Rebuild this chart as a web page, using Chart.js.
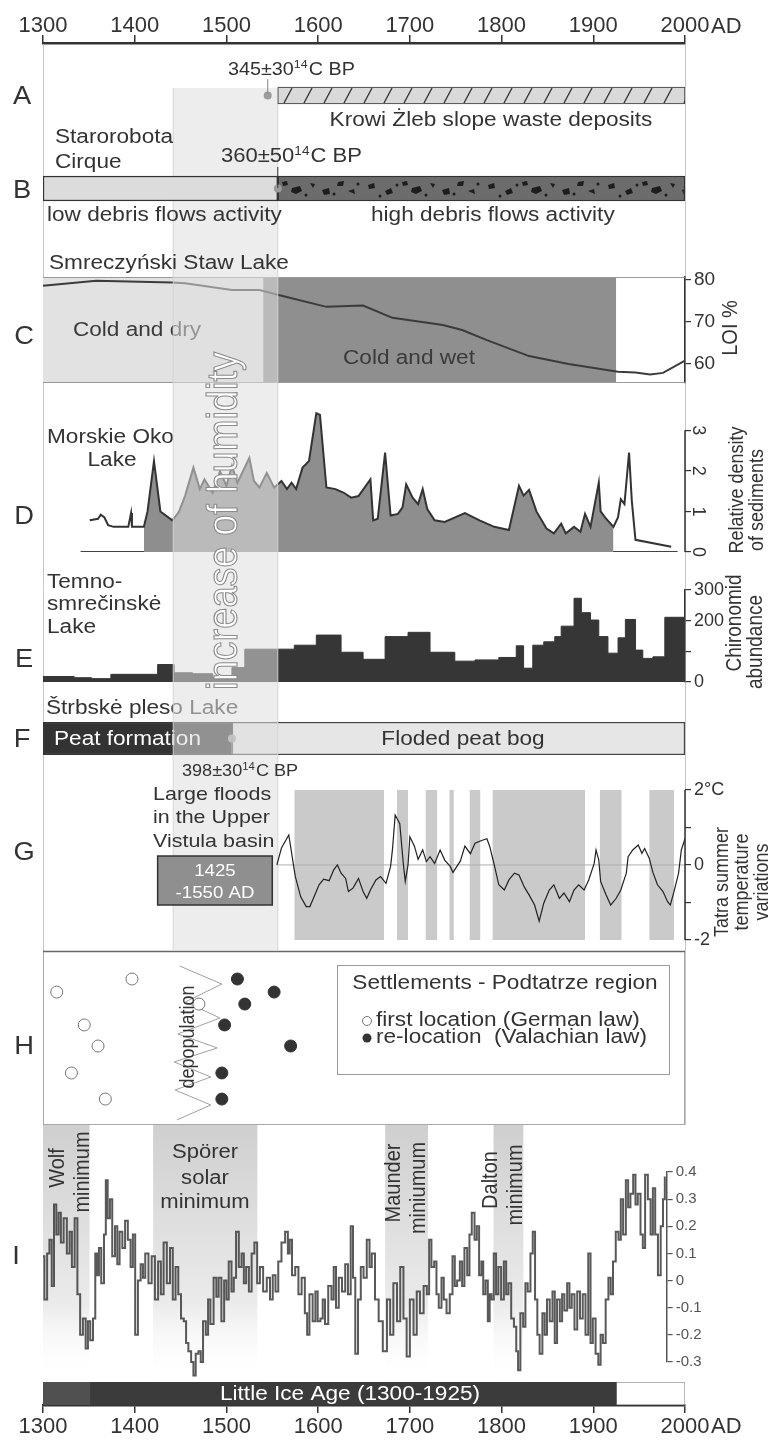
<!DOCTYPE html>
<html>
<head>
<meta charset="utf-8">
<title>Tatra records 1300-2000 AD</title>
<script src="https://cdn.jsdelivr.net/npm/chart.js@4.4.1/dist/chart.umd.min.js"></script>
<style>
  body { margin: 0; background: #fff; }
  #fig { position: relative; width: 775px; height: 1440px; overflow: hidden; }
  #fig canvas { position: absolute; left: 0; top: 0; }
</style>
</head>
<body>
<div id="fig"></div>
<script>
// ---------- values ----------
const yearTicks = [1300, 1400, 1500, 1600, 1700, 1800, 1900, 2000];

// A, B: Krowi Żleb / Starorobota Cirque
const rowsAB = ['A', 'B'];
const slopeWaste = [1556, 2000];
const debrisLow = [1300, 1556];
const debrisHigh = [1556, 2000];
const datesAB = [1545, 1556];

// C: Smreczyński Staw, LOI %
const loiYears  = [1300, 1358, 1441, 1455, 1506, 1536, 1557, 1609, 1649, 1681, 1736, 1757, 1784, 1830, 1873, 1927, 1946, 1962, 1976, 2000];
const loiValues = [78.6, 79.8, 79.4, 79.2, 77.6, 77.6, 76.4, 73.6, 73.9, 71.0, 69.3, 68.1, 65.7, 61.9, 60.0, 58.2, 58.0, 57.5, 57.9, 60.8];
const loiTicks = [60, 70, 80];
const climateStart = [1300, 1540];
const climateEnd   = [1540, 1925];

// D: Morskie Oko, relative density of sediments
const densYears = [1351, 1360, 1363, 1367, 1371, 1377, 1393, 1396, 1397, 1410,
                   1414, 1421, 1428, 1441, 1448, 1455, 1464, 1471, 1476, 1485,
                   1493, 1500, 1506, 1512, 1518, 1525, 1530, 1536, 1544, 1552,
                   1560, 1566, 1571, 1576, 1583, 1590, 1598, 1602, 1609, 1619,
                   1628, 1636, 1644, 1657, 1660, 1665, 1673, 1679, 1687, 1692,
                   1696, 1703, 1709, 1714, 1719, 1727, 1738, 1760, 1776, 1792,
                   1808, 1819, 1824, 1830, 1838, 1849, 1857, 1865, 1870, 1879,
                   1886, 1891, 1897, 1906, 1908, 1914, 1922, 1927, 1930, 1934,
                   1939, 1942, 1946, 1985];
const densValues = [0.78, 0.82, 0.92, 0.85, 0.66, 0.62, 0.62, 0.96, 0.62, 0.62,
                    1.0, 2.24, 1.0, 0.78, 0.98, 1.39, 2.08, 1.55, 1.79, 1.46,
                    1.99, 1.63, 2.12, 1.71, 1.99, 2.32, 1.75, 1.59, 1.95, 1.59,
                    1.75, 1.55, 1.71, 1.55, 2.08, 2.24, 3.42, 3.38, 1.59, 1.55,
                    1.46, 1.34, 1.38, 1.79, 0.78, 0.82, 2.45, 0.9, 0.94, 1.1,
                    1.67, 1.34, 1.18, 1.55, 1.06, 0.78, 0.74, 0.96, 0.78, 0.62,
                    0.54, 1.63, 1.39, 1.53, 1.0, 0.58, 0.46, 0.70, 0.46, 0.62,
                    0.5, 0.94, 0.62, 1.71, 1.0, 0.82, 0.62, 0.86, 1.3, 1.18,
                    2.45, 1.26, 0.3, 0.13];
const densFilled = [1410, 1922];
const densBase = [1341, 1992];
const densTicks = [0, 1, 2, 3];

// E: Temno-smrečinskė, chironomid abundance (step starts)
const chirYears  = [1300, 1334, 1353, 1374, 1425, 1443, 1463, 1485, 1506, 1520,
                    1574, 1598, 1625, 1649, 1673, 1698, 1722, 1749, 1771, 1797,
                    1816, 1824, 1834, 1846, 1858, 1865, 1879, 1887, 1897, 1906,
                    1916, 1927, 1935, 1946, 1954, 1965, 1978, 1997, 2000];
const chirValues = [14, 18, 14, 11, 25, 57, 30, 27, 16, 47,
                    107, 120, 153, 97, 74, 148, 162, 97, 68, 72,
                    80, 118, 45, 120, 131, 148, 182, 273, 226, 202,
                    148, 94, 144, 204, 104, 77, 82, 211, 211];
const chirTicks = [0, 100, 200, 300];
const chirLabels = ['0', '', '200', '300'];

// F: Štrbskė pleso
const peatSpan = [1300, 1506];
const floodedSpan = [1506, 2000];
const datesF = [1506];

// G: Tatra summer temperature variations
const tempYears  = [1555, 1560, 1568, 1575, 1581, 1587, 1591, 1595, 1601, 1606,
                    1612, 1617, 1621, 1625, 1630, 1633, 1638, 1644, 1649, 1653,
                    1657, 1663, 1668, 1674, 1679, 1681, 1684, 1689, 1693, 1695,
                    1698, 1700, 1705, 1709, 1714, 1718, 1722, 1727, 1733, 1738,
                    1744, 1747, 1755, 1760, 1766, 1771, 1779, 1784, 1787, 1792,
                    1797, 1803, 1808, 1814, 1819, 1825, 1830, 1836, 1841, 1846,
                    1852, 1857, 1863, 1868, 1874, 1879, 1884, 1890, 1895, 1901,
                    1903, 1906, 1908, 1914, 1919, 1925, 1930, 1936, 1938, 1943,
                    1949, 1953, 1956, 1961, 1965, 1970, 1976, 1981, 1984, 1988,
                    1993, 1996, 2000];
const tempValues = [0, 0.45, 0.8, -0.3, -0.85, -1.11, -1.11, -0.88, -0.53, -0.38,
                    -0.42, -0.13, 0, -0.22, -0.36, -0.71, -0.62, -0.36, -0.71, -0.89,
                    -0.67, -0.40, -0.31, -0.49, -0.04, 0.4, 1.33, 1.1, 0, -0.44,
                    0, 0.75, 0.5, 0.15, 0.4, 0.09, 0.22, 0.04, 0.4, 0.13,
                    -0.04, -0.2, 0.1, 0.5, 0.3, 0.58, 0.66, 0.7, 0.5, 0,
                    -0.53, -0.67, -0.4, -0.22, -0.27, -0.6, -0.8, -1.07, -1.5, -1.02,
                    -0.67, -0.53, -0.89, -0.75, -0.98, -0.67, -0.53, -0.67, -0.4, 0.04,
                    0.4, 0.13, -0.44, -0.8, -1.07, -0.89, -0.67, -0.22, 0.22, 0.4,
                    0.53, 0.31, 0.44, 0.18, -0.2, -0.53, -0.71, -0.98, -1.07, -0.71,
                    -0.22, 0.4, 0.7];
const tempTicks = [-2, -1, 0, 1, 2];
const tempLabels = ['-2', '', '0', '', '2°C'];
const coldStart = [1574, 1686, 1717, 1743, 1765, 1790, 1907, 1961];
const coldEnd   = [1672, 1698, 1730, 1748, 1777, 1891, 1931, 1988];
const floodsSpan = [1425, 1550];
const zeroSpan = [1555, 2000];

// H: settlements, Podtatrze region
const firstYears = [1315, 1397, 1470, 1345, 1360, 1331, 1368];
const firstRows  = [7.64, 8.39, 6.95, 5.75, 4.54, 2.99, 1.49];
const reloYears  = [1512, 1552, 1520, 1498, 1570, 1495, 1495];
const reloRows   = [8.39, 7.64, 6.95, 5.75, 4.54, 2.99, 1.49];
const depopYears = [1449, 1495, 1455, 1493, 1447, 1490, 1443, 1483, 1444, 1483, 1446];
const depopRows  = [9.14, 8.10, 7.07, 6.15, 5.23, 4.43, 3.62, 2.76, 2.01, 1.15, 0.29];

// I: solar minima and temperature anomaly
const minimaStart = [1300, 1420, 1673, 1791];
const minimaEnd   = [1351, 1534, 1720, 1824];
const tsiYears = [1300, 1303, 1306, 1308, 1311, 1313, 1316, 1318, 1321, 1324,
                  1328, 1330, 1333, 1336, 1339, 1342, 1345, 1348, 1350, 1353,
                  1356, 1358, 1360, 1362, 1365, 1368, 1369, 1372, 1374, 1377,
                  1380, 1382, 1385, 1388, 1391, 1394, 1397, 1399, 1402, 1405,
                  1408, 1410, 1413, 1417, 1420, 1424, 1427, 1430, 1433, 1437,
                  1440, 1443, 1446, 1449, 1452, 1455, 1457, 1460, 1463, 1465,
                  1468, 1471, 1473, 1476, 1479, 1481, 1484, 1488, 1490, 1493,
                  1496, 1499, 1501, 1504, 1507, 1509, 1512, 1515, 1518, 1520,
                  1523, 1526, 1529, 1532, 1535, 1538, 1542, 1546, 1549, 1552,
                  1555, 1558, 1562, 1566, 1568, 1570, 1573, 1577, 1580, 1584,
                  1587, 1589, 1592, 1596, 1598, 1601, 1604, 1606, 1609, 1613,
                  1616, 1618, 1621, 1624, 1628, 1631, 1634, 1637, 1639, 1642,
                  1645, 1648, 1651, 1655, 1657, 1660, 1664, 1668, 1673, 1677,
                  1680, 1684, 1688, 1691, 1695, 1698, 1702, 1706, 1709, 1713,
                  1717, 1720, 1722, 1725, 1728, 1730, 1733, 1736, 1738, 1742,
                  1745, 1748, 1750, 1753, 1756, 1758, 1761, 1764, 1766, 1769,
                  1772, 1774, 1777, 1779, 1781, 1784, 1786, 1788, 1790, 1793,
                  1795, 1798, 1801, 1804, 1806, 1809, 1812, 1815, 1817, 1819,
                  1822, 1825, 1827, 1830, 1833, 1835, 1838, 1840, 1843, 1846,
                  1848, 1851, 1854, 1857, 1859, 1862, 1865, 1867, 1870, 1873,
                  1875, 1878, 1881, 1884, 1887, 1890, 1893, 1896, 1898, 1901,
                  1904, 1907, 1909, 1912, 1915, 1918, 1920, 1923, 1926, 1929,
                  1931, 1934, 1937, 1939, 1942, 1945, 1947, 1950, 1953, 1955,
                  1958, 1961, 1964, 1966, 1969, 1972, 1975, 1977, 1979];
const tsiValues = [0.09, -0.07, 0.10, 0.15, -0.02, 0.28, 0.17, 0.25, 0.14, 0.23,
                   0.10, 0.18, 0.05, 0.23, -0.05, -0.20, -0.14, -0.25, -0.15, -0.22,
                   -0.14, 0.10, 0.02, 0.12, -0.01, 0.17, 0.37, 0.23, 0.30, 0.09,
                   0.20, 0.06, 0.18, 0.12, 0.22, 0.15, 0.05, 0.17, -0.20, 0,
                   0.06, 0.01, 0.10, -0.01, 0.09, -0.07, 0.07, -0.05, 0.14, -0.01,
                   0.12, -0.07, 0.05, -0.05, -0.14, -0.15, -0.23, -0.26, -0.30, -0.35,
                   -0.27, -0.26, -0.30, -0.15, -0.20, -0.07, -0.16, 0.01, -0.06, 0.01,
                   -0.15, 0, -0.07, 0.07, -0.04, 0.01, 0.18, 0.05, 0.10, -0.01,
                   0.05, -0.04, 0.10, 0.14, -0.01, 0.05, -0.04, 0.01, -0.07, 0.02,
                   -0.04, 0.07, 0.14, 0.18, 0.10, 0.15, 0.02, 0.05, -0.05, 0.01,
                   -0.12, -0.20, -0.05, -0.15, -0.04, -0.15, -0.14, -0.07, -0.16, -0.02,
                   -0.07, 0.05, -0.10, 0.01, -0.04, 0.06, -0.05, 0.20, 0.01, -0.27,
                   -0.07, 0.05, 0.01, 0.15, 0.05, 0.10, -0.07, -0.15, -0.26, -0.07,
                   -0.20, -0.01, -0.15, 0.05, -0.14, -0.28, -0.07, -0.20, -0.04, -0.12,
                   -0.02, -0.05, 0.15, 0.05, 0.07, -0.05, -0.10, 0.01, -0.07, -0.12,
                   -0.05, 0.09, -0.02, 0, 0.07, -0.02, 0.12, 0.02, 0.17, 0.25,
                   0.15, 0.20, 0.02, 0.07, -0.05, 0, -0.15, -0.05, -0.07, 0.10,
                   -0.05, 0.05, -0.07, 0.07, -0.05, -0.01, -0.14, -0.17, -0.26, -0.33,
                   -0.12, -0.17, -0.01, -0.04, 0.10, 0.18, -0.07, -0.20, -0.27, -0.12,
                   -0.20, -0.07, -0.15, -0.04, -0.23, -0.07, -0.15, -0.05, -0.11, -0.01,
                   -0.10, -0.05, -0.18, -0.04, -0.14, -0.05, -0.20, 0.10, -0.23, -0.14,
                   -0.27, -0.31, -0.20, -0.23, -0.07, 0.01, -0.05, 0.07, 0.18, 0.15,
                   0.30, 0.17, 0.37, 0.27, 0.32, 0.39, 0.28, 0.32, 0.17, 0.12,
                   0.39, 0.30, 0.17, 0.34, 0.17, 0.02, 0.20, 0.30, 0.38];
const tsiTicks = [-0.3, -0.2, -0.1, 0, 0.1, 0.2, 0.3, 0.4];
const tsiLabels = ['-0.3', '-0.2', '-0.1', '0', '0.1', '0.2', '0.3', '0.4'];
const liaSpan = [1300, 1925];
const liaAfter = [1925, 2000];

// band spanning panels A-G
const humidity = [1442, 1556];

// ---------- layout ----------
const W = 775, H = 1440, X0 = 43, X1 = 685;
const FONT = '"Liberation Sans", Arial, Helvetica, sans-serif';
const SX = 1.13;           // the figure's lettering is slightly wide
const UP = -Math.PI / 2;
const loiMin = 55.5, loiMax = 80.7;
const densMax = 3.5;
const gMin = -2.27, gMax = 2.88;
const tsiEnd = 1980;
const xEndI = X0 + (tsiEnd - 1300) * (X1 - X0) / 700;
const bandFill = 'rgba(222,222,222,0.55)';

const fig = document.getElementById('fig');
Chart.defaults.font.family = FONT;
Chart.defaults.color = '#333';

function canvas() {
  const c = document.createElement('canvas');
  c.width = W; c.height = H;
  fig.appendChild(c);
  return c;
}

function opts(top, bottom, right, scales, extra) {
  return Object.assign({
    responsive: false, animation: false, devicePixelRatio: 1, events: [],
    layout: {padding: {left: X0, right: right, top: top, bottom: H - bottom}},
    plugins: {legend: {display: false}, tooltip: {enabled: false}},
    scales: scales
  }, extra || {});
}

function xHidden(max) {
  return {type: 'linear', min: 1300, max: max || 2000, display: false};
}

function yHidden(extra) {
  return Object.assign({type: 'linear', display: false, min: 0, max: 1}, extra || {});
}

function rightAxis(min, max, ticks, labels, width, size, col) {
  return {
    position: 'right', min: min, max: max,
    afterFit: s => { s.width = width; },
    afterBuildTicks: s => { s.ticks = ticks.map(v => ({value: v})); },
    ticks: {font: {size: size || 18}, color: col || '#333', padding: 3, callback: (v, i) => labels[i]},
    grid: {drawOnChartArea: false, tickLength: 6, color: col || '#333', lineWidth: 1.2},
    border: {color: col || '#333', width: 1.5}
  };
}

function yearAxis(pos, height, pad) {
  return {
    type: 'linear', position: pos, min: 1300, max: 2000,
    afterFit: s => { s.height = height; },
    afterBuildTicks: s => { s.ticks = yearTicks.map(v => ({value: v})); },
    ticks: {font: {size: 22}, color: '#333', padding: pad, maxRotation: 0, autoSkip: false, callback: v => String(v)},
    grid: {drawOnChartArea: false, tickLength: 8, color: '#333', lineWidth: 1.5},
    border: {color: '#333', width: 2.5}
  };
}

function say(ctx, s, x, y, o) {
  o = o || {};
  ctx.save();
  ctx.font = (o.size || 20) + 'px ' + FONT;
  ctx.fillStyle = o.color || '#333';
  ctx.textAlign = o.align || 'left';
  ctx.textBaseline = 'middle';
  ctx.translate(x, y);
  const k = o.sx || SX;
  if (o.rot) { ctx.rotate(o.rot); ctx.scale(1, k); } else { ctx.scale(k, 1); }
  ctx.fillText(s, 0, 0);
  if (o.stroke) { ctx.strokeStyle = o.stroke; ctx.lineWidth = o.lw || 1; ctx.strokeText(s, 0, 0); }
  ctx.restore();
}

// "345±30" + superscript 14 + "C BP"
function sayDate(ctx, a, x, y, size) {
  ctx.save();
  ctx.translate(x, y); ctx.scale(SX, 1);
  ctx.fillStyle = '#333'; ctx.textBaseline = 'middle'; ctx.textAlign = 'left';
  ctx.font = size + 'px ' + FONT;
  ctx.fillText(a, 0, 0);
  let w = ctx.measureText(a).width;
  ctx.font = Math.round(size * 0.62) + 'px ' + FONT;
  ctx.fillText('14', w, -size * 0.28);
  w += ctx.measureText('14').width;
  ctx.font = size + 'px ' + FONT;
  ctx.fillText('C BP', w + 1, 0);
  ctx.restore();
}

function rule(ctx, x0, y0, x1, y1, color, w) {
  ctx.save();
  ctx.strokeStyle = color; ctx.lineWidth = w || 1;
  ctx.beginPath(); ctx.moveTo(x0, y0); ctx.lineTo(x1, y1); ctx.stroke();
  ctx.restore();
}

function hatchPattern(top) {
  const t = document.createElement('canvas'); t.width = 20; t.height = 17;
  const g = t.getContext('2d');
  g.fillStyle = '#d9d9d9'; g.fillRect(0, 0, 20, 17);
  g.strokeStyle = '#2e2e2e'; g.lineWidth = 1.3;
  g.beginPath(); g.moveTo(4, 16); g.lineTo(12, 1); g.stroke();
  const p = g.createPattern(t, 'repeat');
  p.setTransform(new DOMMatrix([1, 0, 0, 1, 0, top]));
  return p;
}

function debrisPattern(top) {
  const t = document.createElement('canvas'); t.width = 120; t.height = 25;
  const g = t.getContext('2d');
  g.fillStyle = '#6c6c6c'; g.fillRect(0, 0, 120, 25);
  g.fillStyle = '#1e1e1e';
  const shapes = [
    [[8, 9], [14, 7], [15, 12], [9, 13]], [[25, 15], [31, 12], [33, 17], [27, 19]],
    [[42, 6], [47, 5], [48, 9], [43, 10]], [[52, 12], [60, 10], [62, 15], [56, 18], [51, 16]],
    [[70, 7], [75, 8], [73, 12]], [[82, 14], [89, 12], [90, 18], [84, 19]],
    [[98, 6], [104, 5], [103, 10], [97, 10]], [[108, 15], [114, 13], [115, 18]]];
  shapes.forEach(s => {
    g.beginPath();
    s.forEach((q, i) => i ? g.lineTo(q[0], q[1]) : g.moveTo(q[0], q[1]));
    g.closePath(); g.fill();
  });
  [[20, 20], [37, 9], [66, 19], [94, 18], [118, 8]].forEach(d => {
    g.beginPath(); g.arc(d[0], d[1], 1.5, 0, 7); g.fill();
  });
  const p = g.createPattern(t, 'repeat');
  p.setTransform(new DOMMatrix([1, 0, 0, 1, 0, top]));
  return p;
}

function fade(c) {
  const a = c.chart.chartArea;
  if (!a) return '#d0d0d0';
  const g = c.chart.ctx.createLinearGradient(0, a.top, 0, a.bottom);
  g.addColorStop(0, '#cfcfcf');
  g.addColorStop(0.7, '#ebebeb');
  g.addColorStop(1, 'rgba(255,255,255,0)');
  return g;
}

function block(x0, x1, y, fill, color) {
  return {data: [{x: x0, y: y}, {x: x1, y: y}], fill: fill, backgroundColor: color,
          borderColor: 'transparent', borderWidth: 0, pointRadius: 0};
}

function humidityBand(top, bottom, plugins) {
  return new Chart(canvas(), {
    type: 'line',
    data: {datasets: [
      block(humidity[0], humidity[1], 1, 'start', bandFill),
      ...humidity.map(x => ({data: [{x: x, y: 0}, {x: x, y: 1}], borderColor: '#d0d0d0', borderWidth: 1, pointRadius: 0}))
    ]},
    options: opts(top, bottom, W - X1, {x: xHidden(), y: yHidden()}),
    plugins: plugins || []
  });
}

const pts = (xs, ys) => xs.map((x, i) => ({x: x, y: ys[i]}));

// ---------- top year axis and light frame ----------
new Chart(canvas(), {
  type: 'line',
  data: {datasets: []},
  options: opts(0, 44, W - X1, {x: yearAxis('top', 43, -4), y: yHidden()}),
  plugins: [{id: 'frame', afterDraw(ch) {
    const c = ch.ctx, xs = ch.scales.x;
    [1300, 2000].forEach(v => {
      const px = Math.round(xs.getPixelForValue(v)) + 0.5;
      rule(c, px, 44, px, 1125, '#c6c6c6', 1);
    });
    say(c, 'AD', 711, 27, {size: 22, sx: 1});
  }}]
});

// humidity band beneath the A-B lettering
humidityBand(88, 277);

// ---------- A, B ----------
new Chart(canvas(), {
  type: 'bar',
  data: {labels: rowsAB, datasets: [
    {type: 'line', data: datesAB.map((x, i) => ({x: x, y: rowsAB[i]})), showLine: false,
     pointRadius: 4, pointBackgroundColor: '#9c9c9c', pointBorderWidth: 0, order: 0},
    {data: [{x: slopeWaste, y: 'A'}], backgroundColor: hatchPattern(87), borderColor: '#333',
     borderWidth: 1, barThickness: 17, grouped: false, borderSkipped: false, order: 1},
    {data: [{x: debrisLow, y: 'B'}], backgroundColor: '#dcdcdc', borderColor: '#333',
     borderWidth: 1.5, barThickness: 25, grouped: false, borderSkipped: false, order: 1},
    {data: [{x: debrisHigh, y: 'B'}], backgroundColor: debrisPattern(176), borderColor: '#333',
     borderWidth: 1.5, barThickness: 25, grouped: false, borderSkipped: false, order: 1}
  ]},
  options: opts(49, 235, W - X1, {x: xHidden(), y: {type: 'category', display: false}}, {indexAxis: 'y'}),
  plugins: [{id: 'txtAB', afterDraw(ch) {
    const c = ch.ctx, xs = ch.scales.x;
    say(c, 'A', 22, 97, {size: 26, align: 'center', sx: 1.05});
    sayDate(c, '345±30', 228, 70, 17.5);
    rule(c, xs.getPixelForValue(datesAB[0]), 79, xs.getPixelForValue(datesAB[0]), 94, '#888', 1);
    say(c, 'Krowi Żleb slope waste deposits', 491, 120, {align: 'center'});
    say(c, 'Starorobota', 55, 137);
    say(c, 'Cirque', 55, 162);
    sayDate(c, '360±50', 221, 157, 19.5);
    rule(c, xs.getPixelForValue(datesAB[1]), 167, xs.getPixelForValue(datesAB[1]), 188, '#333', 1);
    say(c, 'B', 22, 191, {size: 26, align: 'center', sx: 1.05});
    say(c, 'low debris flows activity', 47, 215);
    say(c, 'high debris flows activity', 371, 215);
    say(c, 'Smreczyński Staw Lake', 49, 263);
  }}]
});

// ---------- C ----------
new Chart(canvas(), {
  type: 'line',
  data: {datasets: [
    {data: pts(loiYears, loiValues), borderColor: '#3b3b3b', borderWidth: 2, pointRadius: 0, order: 0},
    ...climateStart.map((s, i) => Object.assign(block(s, climateEnd[i], loiMax, 'start', ['#e2e2e2', '#8f8f8f'][i]), {order: 1}))
  ]},
  options: opts(277, 383, 0, {x: xHidden(), y: rightAxis(loiMin, loiMax, loiTicks, loiTicks.map(String), W - X1, 19)}),
  plugins: [{id: 'txtC', afterDraw(ch) {
    const c = ch.ctx, a = ch.chartArea;
    rule(c, a.left, a.top + 0.5, a.right, a.top + 0.5, '#999', 1);
    rule(c, a.left, a.bottom - 0.5, a.right, a.bottom - 0.5, '#999', 1);
    say(c, 'C', 24, 337, {size: 26, align: 'center', sx: 1.05});
    say(c, 'Cold and dry', 137, 330, {align: 'center', color: '#3a3a3a'});
    say(c, 'Cold and wet', 409, 358, {align: 'center', color: '#3a3a3a'});
    say(c, 'LOI %', 731, 328, {rot: UP, align: 'center'});
  }}]
});

// ---------- D ----------
const densPts = pts(densYears, densValues);
new Chart(canvas(), {
  type: 'line',
  data: {datasets: [
    {data: densPts, borderColor: '#333', borderWidth: 2, pointRadius: 0, clip: false, order: 0},
    {data: densPts.filter(p => p.x >= densFilled[0] && p.x <= densFilled[1]), fill: 'origin',
     backgroundColor: '#8e8e8e', borderColor: 'transparent', borderWidth: 0, pointRadius: 0, order: 1},
    {data: densBase.map(x => ({x: x, y: 0})), borderColor: '#444', borderWidth: 2, pointRadius: 0, order: 2}
  ]},
  options: opts(410, 552, 0, {x: xHidden(), y: Object.assign(rightAxis(0, densMax, densTicks, densTicks.map(String), W - X1),
    {ticks: {display: false}, border: {display: false}})}),
  plugins: [{id: 'txtD', afterDraw(ch) {
    const c = ch.ctx, ys = ch.scales.y;
    rule(c, ys.left, ys.getPixelForValue(0), ys.left, ys.getPixelForValue(3), '#333', 1.5);
    densTicks.forEach(v => say(c, String(v), ys.left + 13, ys.getPixelForValue(v), {rot: Math.PI / 2, size: 18, align: 'center', sx: 1}));
    say(c, 'D', 24, 517, {size: 26, align: 'center', sx: 1.05});
    say(c, 'Morskie Oko', 47, 437);
    say(c, 'Lake', 112, 460, {align: 'center'});
    say(c, 'Relative density', 737, 490, {rot: UP, align: 'center', size: 18});
    say(c, 'of sediments', 757, 500, {rot: UP, align: 'center', size: 18});
  }}]
});

// ---------- E ----------
new Chart(canvas(), {
  type: 'line',
  data: {datasets: [
    {data: pts(chirYears, chirValues), stepped: 'after', fill: 'origin', backgroundColor: '#363636',
     borderColor: '#363636', borderWidth: 1, pointRadius: 0}
  ]},
  options: opts(590, 682, 0, {x: xHidden(), y: rightAxis(0, 300, chirTicks, chirLabels, W - X1)}),
  plugins: [{id: 'txtE', afterDraw(ch) {
    const c = ch.ctx;
    say(c, 'E', 24, 660, {size: 26, align: 'center', sx: 1.05});
    say(c, 'Temno-', 47, 582);
    say(c, 'smrečinskė', 47, 604);
    say(c, 'Lake', 47, 627);
    say(c, 'Chironomid', 735, 623, {rot: UP, align: 'center', size: 19});
    say(c, 'abundance', 756, 642, {rot: UP, align: 'center', size: 19});
  }}]
});

// ---------- F ----------
new Chart(canvas(), {
  type: 'bar',
  data: {labels: ['F'], datasets: [
    {type: 'line', data: datesF.map(x => ({x: x, y: 'F'})), showLine: false, pointRadius: 4,
     pointBackgroundColor: '#a0a0a0', pointBorderWidth: 0, order: 0},
    {data: [{x: peatSpan, y: 'F'}], backgroundColor: '#333', borderColor: '#333', borderWidth: 1.5,
     barPercentage: 1, categoryPercentage: 1, grouped: false, borderSkipped: false, order: 1},
    {data: [{x: floodedSpan, y: 'F'}], backgroundColor: '#e6e6e6', borderColor: '#444', borderWidth: 1.5,
     barPercentage: 1, categoryPercentage: 1, grouped: false, borderSkipped: false, order: 1}
  ]},
  options: opts(722, 755, W - X1, {x: xHidden(), y: {type: 'category', display: false}}, {indexAxis: 'y'}),
  plugins: [{id: 'txtF', afterDraw(ch) {
    const c = ch.ctx, xs = ch.scales.x;
    say(c, 'Štrbskė pleso Lake', 46, 708);
    say(c, 'F', 22, 740, {size: 26, align: 'center', sx: 1.05});
    say(c, 'Peat formation', 54, 739, {color: '#fff'});
    say(c, 'Floded peat bog', 463, 739, {align: 'center'});
    rule(c, xs.getPixelForValue(datesF[0]), 739, xs.getPixelForValue(datesF[0]), 754, '#888', 1);
  }}]
});

// ---------- G ----------
new Chart(canvas(), {
  type: 'line',
  data: {datasets: [
    {data: pts(tempYears, tempValues), borderColor: '#222', borderWidth: 1.2, pointRadius: 0, order: 0},
    {data: zeroSpan.map(x => ({x: x, y: 0})), borderColor: '#b0b0b0', borderWidth: 1, pointRadius: 0, order: 1},
    ...coldStart.map((s, i) => Object.assign(block(s, coldEnd[i], 2, {value: -2}, '#cacaca'), {order: 2})),
    Object.assign(block(humidity[0], humidity[1], gMax, 'start', bandFill), {order: 3}),
    ...humidity.map(x => ({data: [{x: x, y: gMin}, {x: x, y: gMax}], borderColor: '#d2d2d2', borderWidth: 1, pointRadius: 0, order: 3}))
  ]},
  options: opts(757, 950, 0, {x: xHidden(), y: Object.assign(rightAxis(gMin, gMax, tempTicks, tempLabels, W - X1), {border: {display: false}})}),
  plugins: [{id: 'txtG', afterDraw(ch) {
    const c = ch.ctx, xs = ch.scales.x, ys = ch.scales.y;
    rule(c, ys.left, ys.getPixelForValue(2), ys.left, ys.getPixelForValue(-2), '#333', 1.5);
    sayDate(c, '398±30', 182, 772, 16);
    say(c, 'G', 24, 853, {size: 26, align: 'center', sx: 1.05});
    say(c, 'Large floods', 153, 795, {size: 19});
    say(c, 'in the Upper', 153, 818, {size: 19});
    say(c, 'Vistula basin', 153, 842, {size: 19});
    const b0 = xs.getPixelForValue(floodsSpan[0]), b1 = xs.getPixelForValue(floodsSpan[1]);
    c.save();
    c.fillStyle = '#8f8f8f'; c.fillRect(b0, 856, b1 - b0, 49);
    c.strokeStyle = '#333'; c.lineWidth = 1.5; c.strokeRect(b0, 856, b1 - b0, 49);
    c.restore();
    say(c, String(floodsSpan[0]), (b0 + b1) / 2, 871, {size: 16.5, align: 'center', color: '#fff'});
    say(c, '-' + floodsSpan[1] + ' AD', (b0 + b1) / 2, 893, {size: 16.5, align: 'center', color: '#fff'});
    say(c, 'Tatra summer', 722, 882, {rot: UP, align: 'center', size: 18});
    say(c, 'temperature', 742, 882, {rot: UP, align: 'center', size: 18});
    say(c, 'variations', 762, 882, {rot: UP, align: 'center', size: 18});
  }}]
});

// ---------- H ----------
new Chart(canvas(), {
  type: 'scatter',
  data: {datasets: [
    {data: pts(firstYears, firstRows), pointRadius: 6, pointBackgroundColor: '#fff', pointBorderColor: '#777', pointBorderWidth: 1, order: 0},
    {data: pts(reloYears, reloRows), pointRadius: 6, pointBackgroundColor: '#333', pointBorderColor: '#333', pointBorderWidth: 1, order: 0},
    {type: 'line', data: pts(depopYears, depopRows), borderColor: '#a0a0a0', borderWidth: 1, pointRadius: 0, order: 1}
  ]},
  options: opts(951, 1125, W - X1, {x: xHidden(), y: yHidden({max: 10})}),
  plugins: [{id: 'txtH', afterDraw(ch) {
    const c = ch.ctx, a = ch.chartArea;
    c.save();
    c.strokeStyle = '#a8a8a8'; c.lineWidth = 1;
    c.strokeRect(a.left + 0.5, a.top + 0.5, a.right - a.left - 1, a.bottom - a.top - 1);
    c.restore();
    rule(c, a.left, a.top + 0.5, a.right, a.top + 0.5, '#666', 1.5);
    say(c, 'H', 24, 1047, {size: 26, align: 'center', sx: 1.05});
    say(c, 'depopulation', 188, 1037, {rot: UP, align: 'center', size: 18});
    c.save();
    c.strokeStyle = '#9a9a9a'; c.lineWidth = 1;
    c.strokeRect(337.5, 965.5, 332, 109);
    c.restore();
    say(c, 'Settlements - Podtatrze region', 505, 983, {align: 'center'});
    c.save();
    c.beginPath(); c.arc(367, 1021, 4.5, 0, 7); c.fillStyle = '#fff'; c.fill();
    c.strokeStyle = '#777'; c.lineWidth = 1; c.stroke();
    c.beginPath(); c.arc(367, 1038, 4.5, 0, 7); c.fillStyle = '#333'; c.fill();
    c.restore();
    say(c, 'first location (German law)', 376, 1020);
    say(c, 're-location  (Valachian law)', 376, 1037);
  }}]
});

// ---------- I: solar minima bands ----------
new Chart(canvas(), {
  type: 'line',
  data: {datasets: minimaStart.map((s, i) => block(s, minimaEnd[i], 1, 'start', fade))},
  options: opts(1125, 1382, W - X1, {x: xHidden(), y: yHidden()}),
  plugins: [{id: 'txtI', afterDraw(ch) {
    const c = ch.ctx;
    say(c, 'I', 16, 1257, {size: 26, align: 'center', sx: 1.05});
    say(c, 'Wolf', 58, 1168, {rot: UP, align: 'center'});
    say(c, 'minimum', 83, 1172, {rot: UP, align: 'center'});
    say(c, 'Spörer', 205, 1153, {align: 'center', size: 19.5});
    say(c, 'solar', 205, 1179, {align: 'center', size: 19.5});
    say(c, 'minimum', 205, 1203, {align: 'center', size: 19.5});
    say(c, 'Maunder', 394, 1183, {rot: UP, align: 'center'});
    say(c, 'miniumum', 419, 1188, {rot: UP, align: 'center'});
    say(c, 'Dalton', 491, 1180, {rot: UP, align: 'center'});
    say(c, 'minimum', 516, 1185, {rot: UP, align: 'center'});
  }}]
});

// ---------- I: anomaly curve ----------
new Chart(canvas(), {
  type: 'line',
  data: {datasets: [
    {data: pts(tsiYears, tsiValues), borderColor: 'rgba(60,60,60,0.85)', borderWidth: 2, pointRadius: 0, stepped: 'middle', clip: false}
  ]},
  options: opts(1172, 1362, 0, {x: xHidden(tsiEnd), y: rightAxis(-0.3, 0.4, tsiTicks, tsiLabels, W - xEndI, 15, '#555')})
});

// ---------- Little Ice Age bar + bottom year axis ----------
new Chart(canvas(), {
  type: 'bar',
  data: {labels: ['LIA'], datasets: [
    {data: [{x: [minimaStart[0], minimaEnd[0]], y: 'LIA'}], backgroundColor: '#505050', borderWidth: 0,
     barPercentage: 1, categoryPercentage: 1, grouped: false, order: 0},
    {data: [{x: liaSpan, y: 'LIA'}], backgroundColor: '#3b3b3b', borderWidth: 0,
     barPercentage: 1, categoryPercentage: 1, grouped: false, order: 1},
    {data: [{x: liaAfter, y: 'LIA'}], backgroundColor: '#fff', borderColor: '#999', borderWidth: 1,
     barPercentage: 1, categoryPercentage: 1, grouped: false, borderSkipped: false, order: 1}
  ]},
  options: opts(1382, H, W - X1, {x: yearAxis('bottom', 35, 1), y: {type: 'category', display: false}}, {indexAxis: 'y'}),
  plugins: [{id: 'txtL', afterDraw(ch) {
    const c = ch.ctx;
    say(c, 'Little Ice Age (' + liaSpan[0] + '-' + liaSpan[1] + ')', 220, 1394, {color: '#fff'});
    say(c, 'AD', 711, 1427, {size: 22, sx: 1});
  }}]
});

// ---------- humidity band over panels C-F, with its label ----------
humidityBand(277, 757, [{id: 'txtHum', afterDraw(ch) {
  say(ch.ctx, 'increase of humidity', 225, 521, {rot: UP, align: 'center', size: 38, color: '#fff', stroke: '#8c8c8c', lw: 1});
}}]);
</script>
</body>
</html>
